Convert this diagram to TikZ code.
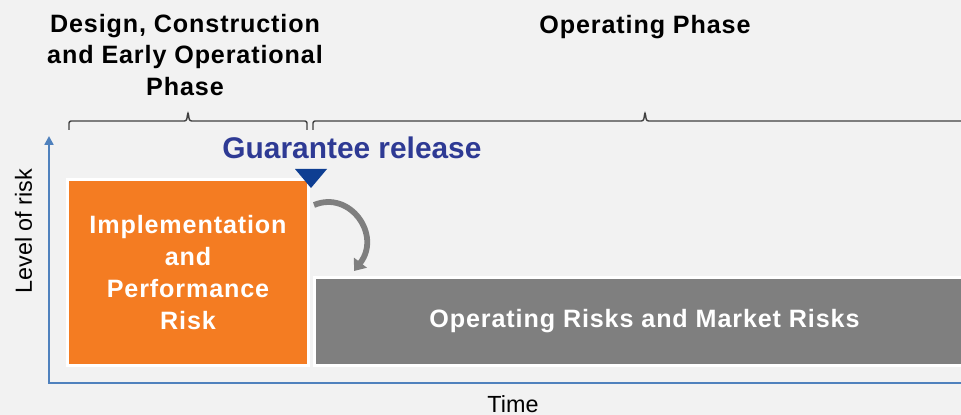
\documentclass[tikz,border=0pt]{standalone}
\usepackage{fontspec}
\setmainfont{Liberation Sans}
\newfontfamily\spacedfont{Liberation Sans}[LetterSpace=3.5]
\usepackage{tikz}
\usetikzlibrary{arrows.meta,calc}
\definecolor{bggrey}{HTML}{F2F2F2}
\definecolor{riskorange}{HTML}{F47C22}
\definecolor{riskgrey}{HTML}{7F7F7F}
\definecolor{axisblue}{HTML}{4F81BD}
\definecolor{markerblue}{HTML}{0E3E92}
\definecolor{labelblue}{HTML}{2E3A94}
\tikzstyle{none}=[inner sep=0pt]
\tikzstyle{phase}=[align=center,inner sep=0pt,font=\spacedfont\fontsize{14.3}{18.2}\selectfont\bfseries]
\tikzstyle{riskbox}=[draw=white,line width=1.7pt,text=white,align=center,inner sep=0pt,font=\spacedfont\fontsize{14.3}{18.3}\selectfont\bfseries]
\tikzstyle{bracket}=[draw=black!75,line width=0.8pt,rounded corners=1.2pt]
\tikzstyle{axis}=[draw=axisblue,line width=1.5pt]
\tikzstyle{axislabel}=[inner sep=0pt,font=\fontsize{13.3}{15}\selectfont]
\tikzstyle{turnarrow}=[draw=riskgrey,line width=3.3pt,-{Triangle[length=6pt,width=9pt]}]
\pgfdeclarelayer{bglayer}
\pgfdeclarelayer{edgelayer}
\pgfdeclarelayer{nodelayer}
\pgfsetlayers{bglayer,edgelayer,nodelayer,main}

\begin{document}
\begin{tikzpicture}[x=0.02cm,y=-0.02cm]
	\useasboundingbox (0,0) rectangle (961,415);
	\begin{pgfonlayer}{bglayer}
		\fill [bggrey] (0,0) rectangle (961,415);
	\end{pgfonlayer}
	\clip (0,0) rectangle (961,415);
	\begin{pgfonlayer}{nodelayer}
		\node [style=phase] (early) at (185,55) {Design, Construction\\and Early Operational\\Phase};
		\node [style=phase,anchor=base] (operating) at (645,34) {Operating Phase};

		\coordinate (earlyL) at (69,130);
		\coordinate (earlytip) at (188,112);
		\coordinate (earlyR) at (307,130);
		\coordinate (operL) at (313,130);
		\coordinate (opertip) at (645,112);
		\coordinate (operR) at (977,130);

		\node [style=riskbox,fill=riskorange,minimum width=4.82cm,minimum height=3.72cm] (implementation) at (188,272.5) {Implementation\\and\\Performance\\Risk};
		\node [style=riskbox,fill=riskgrey,minimum width=13.22cm,minimum height=1.76cm] (market) at (644.5,321.5) {Operating Risks and Market Risks};

		\node [anchor=base,inner sep=0pt,text=labelblue,font=\fontsize{17}{20}\selectfont\bfseries] (release) at (352,159) {Guarantee release};
		\coordinate (markL) at (295,169);
		\coordinate (markR) at (327,169);
		\coordinate (markT) at (311,188);

		\coordinate (turnstart) at (314,205);
		\coordinate (turnend) at (354,271);

		\coordinate (origin) at (49,383);
		\coordinate (risktop) at (49,136);
		\coordinate (timeend) at (961,383);
		\node [style=axislabel,rotate=90] (risklabel) at (23.5,231) {Level of risk};
		\node [style=axislabel] (timelabel) at (513,404) {Time};
	\end{pgfonlayer}
	\begin{pgfonlayer}{edgelayer}
		\draw [style=bracket] (earlyL) |- ($(earlytip)+(-1.5,9)$) -- (earlytip) -- ($(earlytip)+(1.5,9)$) -| (earlyR);
		\draw [style=bracket] (operL) |- ($(opertip)+(-1.5,9)$) -- (opertip) -- ($(opertip)+(1.5,9)$) -| (operR);
		\draw [style=axis,{Triangle[length=5pt,width=5pt]}-] (risktop) -- (origin) -- (timeend);
	\end{pgfonlayer}
	\fill [markerblue] (markL) -- (markR) -- (markT) -- cycle;
	\draw [style=turnarrow] (turnstart) .. controls (350,190) and (382,235) .. (turnend);
\end{tikzpicture}
\end{document}
